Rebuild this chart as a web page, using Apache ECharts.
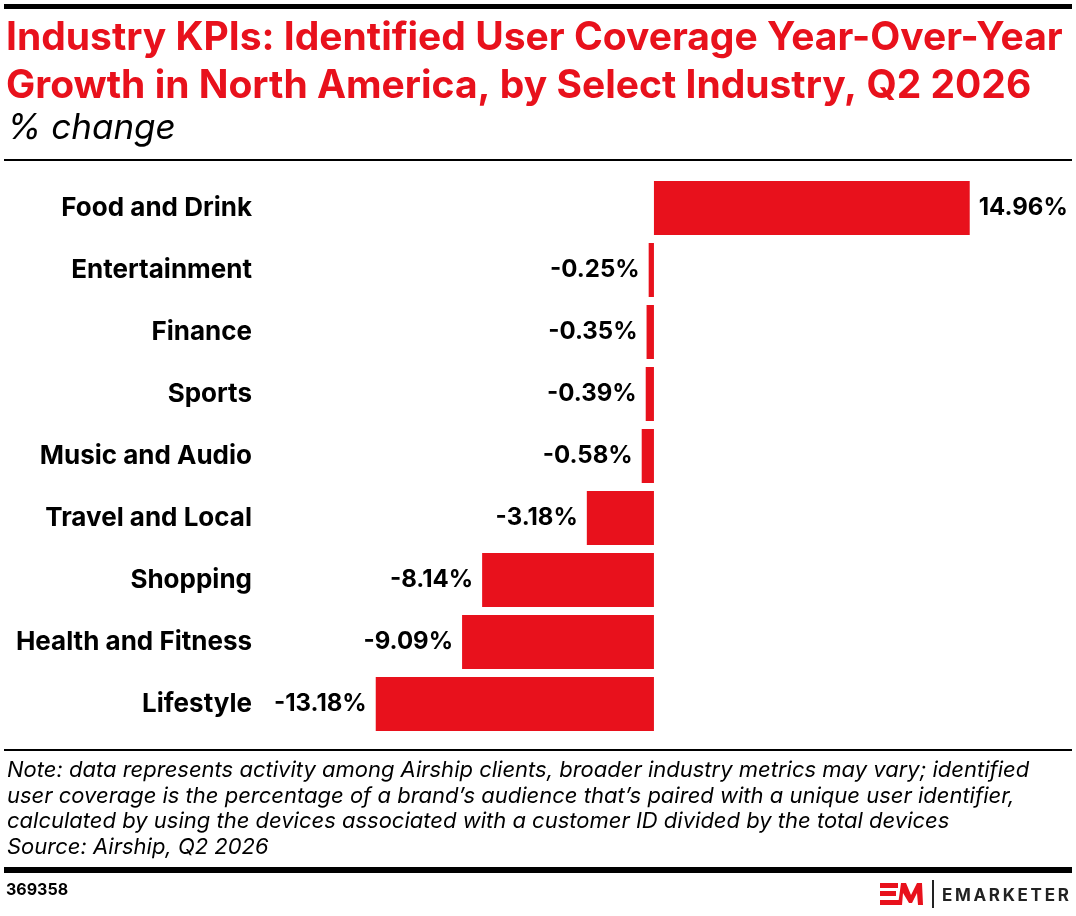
<!DOCTYPE html>
<html>
<head>
<meta charset="utf-8">
<script src="https://cdn.jsdelivr.net/npm/echarts@6/dist/echarts.min.js"></script>
<style>
  html, body { margin: 0; padding: 0; background: #fff; }
  #chart { width: 1076px; height: 916px; }
</style>
</head>
<body>
<div id="chart"></div>
<script>

var industries = ['Food and Drink', 'Entertainment', 'Finance', 'Sports', 'Music and Audio',
	'Travel and Local', 'Shopping', 'Health and Fitness', 'Lifestyle'];
var growth = [14.96, -0.25, -0.35, -0.39, -0.58, -3.18, -8.14, -9.09, -13.18];

var titleLines = ['Industry KPIs: Identified User Coverage Year-Over-Year',
	'Growth in North America, by Select Industry, Q2 2026'];
var subtitle = '% change';
var noteLines = [
	'Note: data represents activity among Airship clients, broader industry metrics may vary; identified',
	'user coverage is the percentage of a brand\u2019s audience that\u2019s paired with a unique user identifier,',
	'calculated by using the devices associated with a customer ID divided by the total devices',
	'Source: Airship, Q2 2026'
];
var chartId = '369358';

var RED = '#e8111c';
var FONT = 'Inter, Roboto, sans-serif';

var myChart = echarts.init(document.getElementById('chart'));

// positive values label on the right, negative on the left
var barData = growth.map(function (v) {
	return {
		value: v,
		label: { position: v >= 0 ? 'right' : 'left' }
	};
});

var graphics = [
	// top rule
	{ type: 'rect', shape: { x: 4, y: 4, width: 1068, height: 5 }, style: { fill: '#000' } },
	// title
	{ type: 'text', left: 6, top: 14, style: { text: titleLines.join('\n'), fill: RED,
		font: 'bold 39px ' + FONT, lineHeight: 48 } },
	{ type: 'text', left: 7, top: 111, style: { text: subtitle, fill: '#000',
		font: 'italic 35px ' + FONT } },
	// rule under header
	{ type: 'rect', shape: { x: 4, y: 159, width: 1068, height: 2 }, style: { fill: '#000' } },
	// notes
	{ type: 'rect', shape: { x: 4, y: 749, width: 1068, height: 2 }, style: { fill: '#000' } },
	{ type: 'text', left: 7, top: 758, style: { text: noteLines.join('\n'), fill: '#000',
		font: 'italic 22px ' + FONT, lineHeight: 25.5 } },
	// thick footer rule
	{ type: 'rect', shape: { x: 4, y: 867, width: 1068, height: 6 }, style: { fill: '#000' } },
	{ type: 'text', left: 6, top: 882, style: { text: chartId, fill: '#000',
		font: 'bold 16px ' + FONT } },
	// logo
	{ type: 'rect', shape: { x: 880, y: 883, width: 18, height: 5 }, style: { fill: RED } },
	{ type: 'rect', shape: { x: 880, y: 891, width: 16, height: 5 }, style: { fill: RED } },
	{ type: 'rect', shape: { x: 880, y: 900, width: 20, height: 5 }, style: { fill: RED } },
	{ type: 'polygon', shape: { points: [[898, 905], [901, 883], [906, 883], [911, 895], [917, 883], [922, 883], [923, 905], [918, 905], [917, 893], [912, 903], [909, 903], [903, 893], [902, 905]] },
		style: { fill: RED } },
	{ type: 'rect', shape: { x: 932, y: 880, width: 2, height: 28 }, style: { fill: '#222' } },
	{ type: 'text', left: 942, top: 887, style: { text: 'E\u2009M\u2009A\u2009R\u2009K\u2009E\u2009T\u2009E\u2009R', fill: '#222',
		font: 'bold 17px ' + FONT } }
];

var option = {
	backgroundColor: '#fff',
	animation: false,
	grid: { left: 274, right: 21, top: 177, bottom: 181, containLabel: false },
	xAxis: {
		type: 'value', min: -18, max: 19, show: false
	},
	yAxis: {
		type: 'category', data: industries, inverse: true,
		axisLine: { show: false }, axisTick: { show: false }, splitLine: { show: false },
		axisLabel: { color: '#000', fontFamily: FONT, fontWeight: 'bold', fontSize: 26, margin: 22 }
	},
	series: [{
		type: 'bar', data: barData, barWidth: 54,
		itemStyle: { color: RED },
		label: {
			show: true, distance: 9, color: '#000', fontFamily: FONT, fontWeight: 'bold', fontSize: 24,
			formatter: function (p) { return p.value.toFixed(2) + '%'; }
		}
	}],
	graphic: graphics
};

myChart.setOption(option);
</script>
</body>
</html>
